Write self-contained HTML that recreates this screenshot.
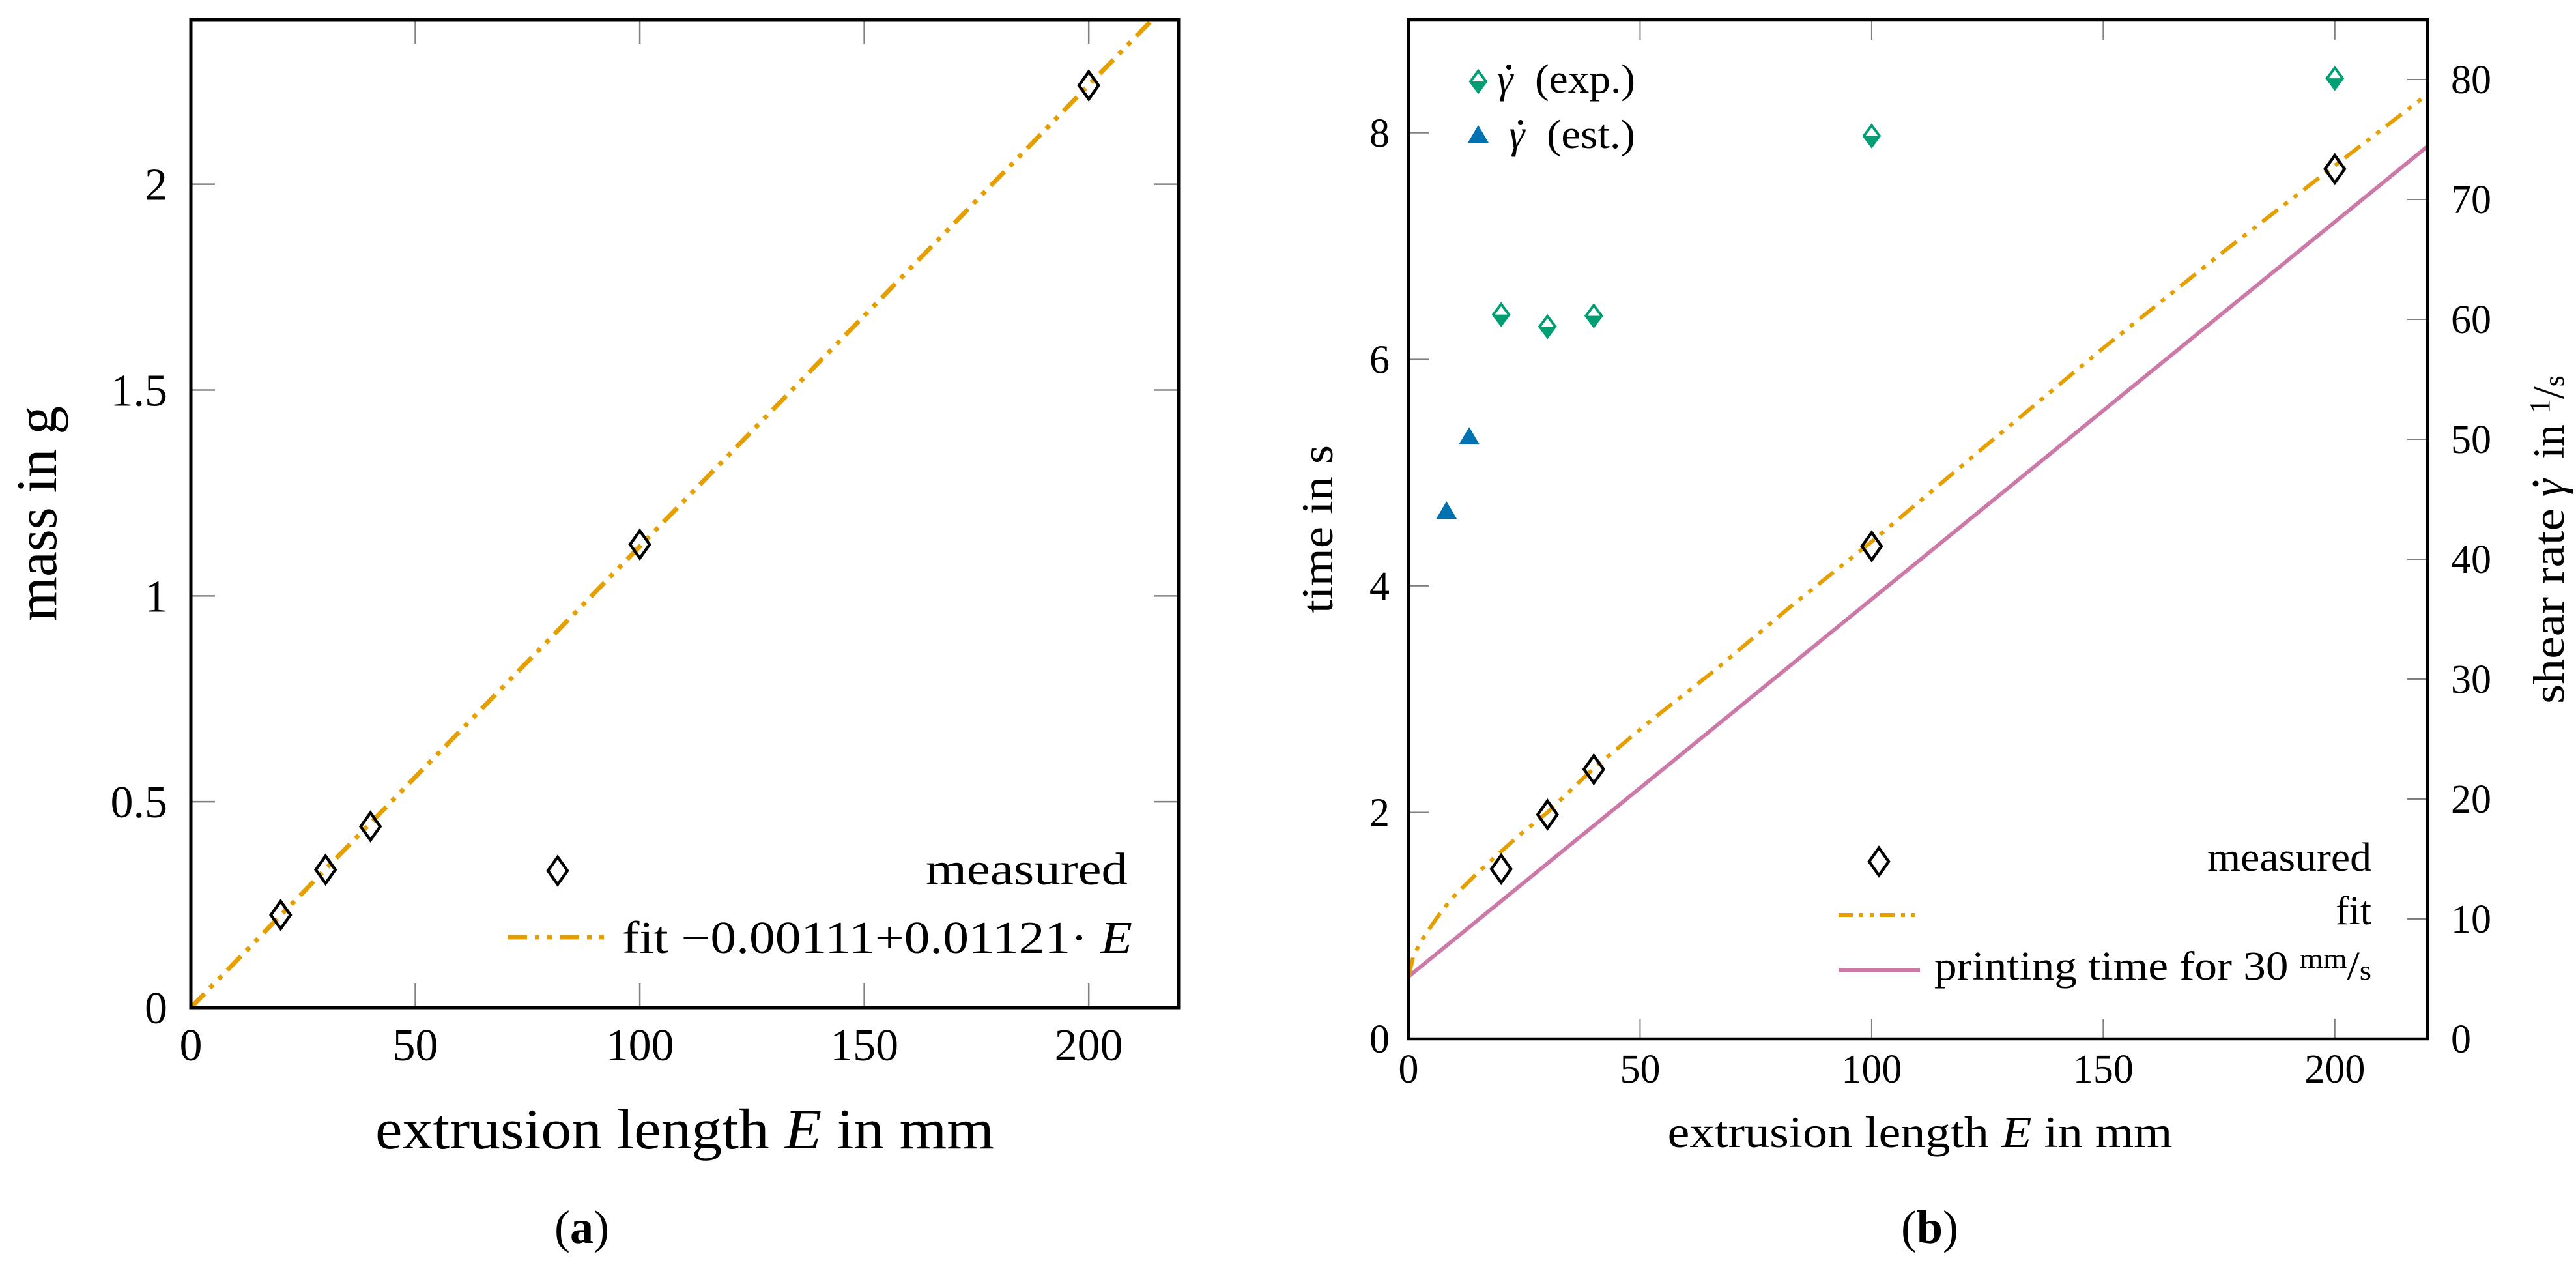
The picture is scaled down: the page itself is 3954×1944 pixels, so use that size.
<!DOCTYPE html>
<html><head><meta charset="utf-8"><style>
html,body{margin:0;padding:0;background:#fff;}
svg{display:block;font-family:"Liberation Serif","DejaVu Serif",serif;}
</style></head><body>
<svg id="fig" width="3954" height="1944" viewBox="0 0 3954 1944" xmlns="http://www.w3.org/2000/svg">
<rect width="3954" height="1944" fill="#fff"/>
<g id="pa"></g>
<g id="pb"></g>
</svg>
<script>
// ---------- Panel (a) data ----------
const aMeasE = [20, 30, 40, 100, 200];
const aMeasM = [0.225, 0.335, 0.44, 1.125, 2.24];
const aFitIntercept = -0.00111;
const aFitSlope = 0.01121;
const aXTicks = [0, 50, 100, 150, 200];
const aYTicks = [0, 0.5, 1, 1.5, 2];
const aYTickLabels = ["0", "0.5", "1", "1.5", "2"];
// ---------- Panel (b) data ----------
const bMeasE = [20, 30, 40, 100, 200];
const bMeasT = [1.5, 1.98, 2.38, 4.35, 7.68];
const bFitE = [0, 1, 2.5, 4.3, 7, 9.6, 14, 18.5, 24, 30, 40, 52, 66, 82, 100, 125, 150, 175, 200, 220];
const bFitT = [0.55, 0.72, 0.85, 0.96, 1.12, 1.25, 1.43, 1.6, 1.8, 2.0, 2.39, 2.8, 3.25, 3.8, 4.39, 5.25, 6.1, 6.92, 7.71, 8.34];
const bPrintE = [0, 220];
const bPrintT = [0.55, 7.88];
const bExpE = [20, 30, 40, 100, 200];
const bExpRate = [60.4, 59.4, 60.3, 75.3, 80.1];
const bEstE = [8.2, 13.1];
const bEstRate = [43.9, 50.1];
const bXTicks = [0, 50, 100, 150, 200];
const bYTicks = [0, 2, 4, 6, 8];
const bY2Ticks = [0, 10, 20, 30, 40, 50, 60, 70, 80];

const NS = "http://www.w3.org/2000/svg";
function mk(parent, tag, attrs, text) {
  const e = document.createElementNS(NS, tag);
  for (const k in attrs) e.setAttribute(k, attrs[k]);
  if (text !== undefined) e.textContent = text;
  parent.appendChild(e);
  return e;
}
const ORANGE = "#E69F00", GREEN = "#009E73", BLUE = "#0072B2", PINK = "#CC79A7";
const DASH = "30 12 7 12 7 12";

function diamond(g, cx, cy, name) {
  const p = mk(g, "path", {d: `M${cx},${cy-21} L${cx+15},${cy} L${cx},${cy+21} L${cx-15},${cy} Z`, fill: "none", stroke: "#000", "stroke-width": 4.5});
  
  
}
function diamondHalf(g, cx, cy, name) {
  const grp = mk(g, "g", {});
  
  
  mk(grp, "path", {d: `M${cx-13},${cy} L${cx+13},${cy} L${cx},${cy+17} Z`, fill: GREEN});
  mk(grp, "path", {d: `M${cx},${cy-16} L${cx+12},${cy} L${cx},${cy+16} L${cx-12},${cy} Z`, fill: "none", stroke: GREEN, "stroke-width": 4});
}
function triangle(g, cx, cy, name) {
  const p = mk(g, "path", {d: `M${cx},${cy-17} L${cx+16},${cy+10} L${cx-16},${cy+10} Z`, fill: BLUE});
  
  
}

// ================= Panel (a) =================
(function(){
  const g = document.getElementById("pa");
  const L = 293, R = 1809, T = 30, B = 1546;
  const xmax = 220, ymax = 2.4;
  const X = v => L + v / xmax * (R - L);
  const Y = v => B - v / ymax * (B - T);
  aXTicks.forEach(t => {
    const x = X(t);
    let e = mk(g, "line", {x1: x, y1: B, x2: x, y2: B - 37, stroke: "#808080", "stroke-width": 2.5});
     
    e = mk(g, "line", {x1: x, y1: T, x2: x, y2: T + 37, stroke: "#808080", "stroke-width": 2.5});
     
    e = mk(g, "text", {x: x, y: 1627, "font-size": 70, "text-anchor": "middle"}, String(t));
     
  });
  aYTicks.forEach((t, i) => {
    const y = Y(t);
    let e = mk(g, "line", {x1: L, y1: y, x2: L + 37, y2: y, stroke: "#808080", "stroke-width": 2.5});
     
    e = mk(g, "line", {x1: R, y1: y, x2: R - 37, y2: y, stroke: "#808080", "stroke-width": 2.5});
     
    e = mk(g, "text", {x: 257, y: y + 24, "font-size": 70, "text-anchor": "end"}, aYTickLabels[i]);
     
  });
  const cp = mk(g, "clipPath", {id: "clipA"});
  mk(cp, "rect", {x: L, y: T, width: R - L, height: B - T});
  const xEnd = (ymax - aFitIntercept) / aFitSlope;
  let e = mk(g, "line", {x1: X(0), y1: Y(Math.max(0, aFitIntercept)), x2: X(xEnd), y2: Y(ymax), stroke: ORANGE, "stroke-width": 7, "stroke-dasharray": DASH, "clip-path": "url(#clipA)"});
   
  aMeasE.forEach((v, i) => diamond(g, X(v), Y(aMeasM[i]), 'measured-point'));
  e = mk(g, "rect", {x: L, y: T, width: R - L, height: B - T, fill: "none", stroke: "#000", "stroke-width": 5});
   
  const lg = mk(g, "g", {});
   
  diamond(lg, 856, 1336, 'legend-measured-marker');
  e = mk(lg, "text", {x: 1731, y: 1357, "font-size": 70, "text-anchor": "end", textLength: 310, lengthAdjust: "spacingAndGlyphs"}, "measured");
   
  e = mk(lg, "line", {x1: 779, y1: 1438, x2: 931, y2: 1438, stroke: ORANGE, "stroke-width": 7, "stroke-dasharray": DASH});
   
  e = mk(lg, "text", {x: 955, y: 1462, "font-size": 70, textLength: 783, lengthAdjust: "spacingAndGlyphs"});
  e.innerHTML = 'fit −0.00111+0.01121· <tspan font-style="italic">E</tspan>';
   
  e = mk(g, "text", {x: 1051, y: 1762, "font-size": 88, "text-anchor": "middle", textLength: 950, lengthAdjust: "spacingAndGlyphs"});
  e.innerHTML = 'extrusion length <tspan font-style="italic">E</tspan> in mm';
   
  e = mk(g, "text", {x: 0, y: 0, "font-size": 88, "text-anchor": "middle", transform: "translate(86,788) rotate(-90)", textLength: 330, lengthAdjust: "spacingAndGlyphs"}, "mass in g");
   
  e = mk(g, "text", {x: 893, y: 1907, "font-size": 72, "text-anchor": "middle"});
  e.innerHTML = '(<tspan font-weight="bold">a</tspan>)';
   
})();

// ================= Panel (b) =================
(function(){
  const g = document.getElementById("pb");
  const L = 2162, R = 3726, T = 30, B = 1594;
  const xmax = 220, ymax = 9, y2max = 85;
  const X = v => L + v / xmax * (R - L);
  const Y = v => B - v / ymax * (B - T);
  const Y2 = v => B - v / y2max * (B - T);
  let e;
  bXTicks.forEach(t => {
    const x = X(t);
    e = mk(g, "line", {x1: x, y1: B, x2: x, y2: B - 31, stroke: "#808080", "stroke-width": 2});
     
    e = mk(g, "line", {x1: x, y1: T, x2: x, y2: T + 31, stroke: "#808080", "stroke-width": 2});
     
    e = mk(g, "text", {x: x, y: 1661, "font-size": 62, "text-anchor": "middle"}, String(t));
     
  });
  bYTicks.forEach(t => {
    const y = Y(t);
    e = mk(g, "line", {x1: L, y1: y, x2: L + 31, y2: y, stroke: "#808080", "stroke-width": 2});
     
    e = mk(g, "text", {x: 2133, y: y + 21, "font-size": 62, "text-anchor": "end"}, String(t));
     
  });
  bY2Ticks.forEach(t => {
    const y = Y2(t);
    e = mk(g, "line", {x1: R, y1: y, x2: R - 31, y2: y, stroke: "#808080", "stroke-width": 2});
     
    e = mk(g, "text", {x: 3762, y: y + 21, "font-size": 62}, String(t));
     
  });
  e = mk(g, "line", {x1: X(bPrintE[0]), y1: Y(bPrintT[0]), x2: X(bPrintE[1]), y2: Y(bPrintT[1]), stroke: PINK, "stroke-width": 6});
   
  let d = "";
  bFitE.forEach((v, i) => { d += (i ? " L" : "M") + X(v).toFixed(1) + "," + Y(bFitT[i]).toFixed(1); });
  e = mk(g, "path", {d: d, fill: "none", stroke: ORANGE, "stroke-width": 6, "stroke-dasharray": DASH, "stroke-linejoin": "round"});
   
  bMeasE.forEach((v, i) => diamond(g, X(v), Y(bMeasT[i]), 'measured-point'));
  bExpE.forEach((v, i) => diamondHalf(g, X(v), Y2(bExpRate[i]), 'shear-rate-exp-point'));
  bEstE.forEach((v, i) => triangle(g, X(v), Y2(bEstRate[i]), 'shear-rate-est-point'));
  e = mk(g, "rect", {x: L, y: T, width: R - L, height: B - T, fill: "none", stroke: "#000", "stroke-width": 4.5});
   
  // legend top-left
  const lg1 = mk(g, "g", {});
   
  diamondHalf(lg1, 2269, 125, 'legend-exp-marker');
  e = mk(lg1, "text", {x: 2298, y: 142, "font-size": 62, "font-style": "italic"}, "γ");
   
  mk(lg1, "circle", {cx: 2316, cy: 103, r: 4, fill: "#000"});
  e = mk(lg1, "text", {x: 2356, y: 142, "font-size": 62, textLength: 154, lengthAdjust: "spacingAndGlyphs"}, "(exp.)");
   
  triangle(lg1, 2269, 209, 'legend-est-marker');
  e = mk(lg1, "text", {x: 2316, y: 227, "font-size": 62, "font-style": "italic"}, "γ");
   
  mk(lg1, "circle", {cx: 2334, cy: 188, r: 4, fill: "#000"});
  e = mk(lg1, "text", {x: 2374, y: 227, "font-size": 62, textLength: 136, lengthAdjust: "spacingAndGlyphs"}, "(est.)");
   
  // legend bottom-right
  const lg2 = mk(g, "g", {});
   
  diamond(lg2, 2884, 1322, 'legend-measured-marker');
  e = mk(lg2, "text", {x: 3640, y: 1336, "font-size": 62, "text-anchor": "end", textLength: 252, lengthAdjust: "spacingAndGlyphs"}, "measured");
   
  e = mk(lg2, "line", {x1: 2822, y1: 1404, x2: 2947, y2: 1404, stroke: ORANGE, "stroke-width": 6, "stroke-dasharray": "22 10 6 10 6 10"});
   
  e = mk(lg2, "text", {x: 3640, y: 1418, "font-size": 62, "text-anchor": "end"}, "fit");
   
  e = mk(lg2, "line", {x1: 2822, y1: 1488, x2: 2947, y2: 1488, stroke: PINK, "stroke-width": 6});
   
  e = mk(lg2, "text", {x: 2969, y: 1503, "font-size": 62, textLength: 671, lengthAdjust: "spacingAndGlyphs"});
  e.innerHTML = 'printing time for 30 <tspan font-size="42" dy="-18">mm</tspan><tspan font-size="62" dy="18">/</tspan><tspan font-size="42">s</tspan>';
   
  // axis titles
  e = mk(g, "text", {x: 2947, y: 1760, "font-size": 68, "text-anchor": "middle", textLength: 775, lengthAdjust: "spacingAndGlyphs"});
  e.innerHTML = 'extrusion length <tspan font-style="italic">E</tspan> in mm';
   
  e = mk(g, "text", {x: 0, y: 0, "font-size": 68, "text-anchor": "middle", transform: "translate(2045,812) rotate(-90)", textLength: 258, lengthAdjust: "spacingAndGlyphs"}, "time in s");
   
  const yt = mk(g, "g", {transform: "translate(3935,812) rotate(-90)"});
   
  mk(yt, "text", {x: -268, y: 0, "font-size": 68, textLength: 300, lengthAdjust: "spacingAndGlyphs"}, "shear rate");
  mk(yt, "text", {x: 50, y: 0, "font-size": 68, "font-style": "italic"}, "γ");
  mk(yt, "circle", {cx: 70, cy: -43, r: 4.5, fill: "#000"});
  e = mk(yt, "text", {x: 108, y: 0, "font-size": 68});
  e.innerHTML = 'in <tspan font-size="44" dy="-22">1</tspan><tspan dy="22">/</tspan><tspan font-size="44">s</tspan>';
  e = mk(g, "text", {x: 2962, y: 1907, "font-size": 72, "text-anchor": "middle"});
  e.innerHTML = '(<tspan font-weight="bold">b</tspan>)';
   
})();
</script>
</body></html>
